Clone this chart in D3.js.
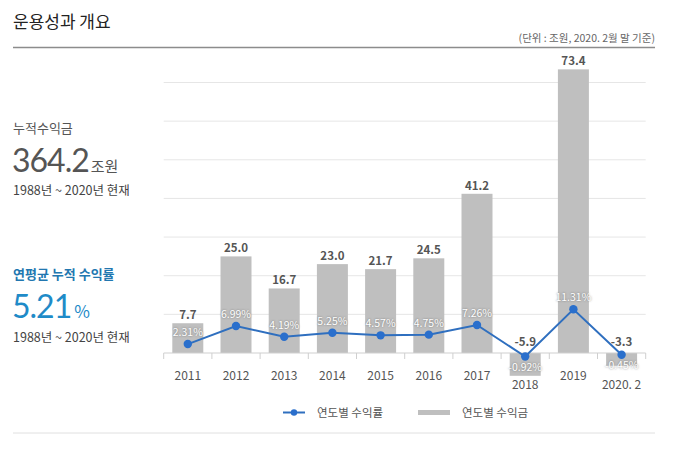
<!DOCTYPE html>
<html><head><meta charset="utf-8">
<script src="https://cdn.jsdelivr.net/npm/d3@7"></script>
<style>
body{margin:0;background:#fff;}
svg{display:block;font-family:"Noto Sans CJK KR","Noto Sans",sans-serif;}
.pct{fill:#fff;font-size:10.5px;text-shadow:0 0 2px rgba(90,90,90,0.8);}
.big{font-family:Lato,"Noto Sans",sans-serif;}
</style></head>
<body>
<svg id="c" width="680" height="449"></svg>
<script>
const categories = ["2011","2012","2013","2014","2015","2016","2017","2018","2019","2020. 2"];
const profits = [7.7, 25.0, 16.7, 23.0, 21.7, 24.5, 41.2, -5.9, 73.4, -3.3];
const returns = [2.31, 6.99, 4.19, 5.25, 4.57, 4.75, 7.26, -0.92, 11.31, -0.45];
const profitLabels = ["7.7","25.0","16.7","23.0","21.7","24.5","41.2","-5.9","73.4","-3.3"];
const returnLabels = ["2.31%","6.99%","4.19%","5.25%","4.57%","4.75%","7.26%","-0.92%","11.31%","-0.45%"];
const yTicks = [0,10,20,30,40,50,60,70];

const svg = d3.select("#c");
const gray = "#555";

// header
svg.append("text").attr("x",13).attr("y",28).attr("font-size",17).attr("fill","#222").text("운용성과 개요");
svg.append("text").attr("x",655).attr("y",42).attr("text-anchor","end").attr("font-size",10.5).attr("fill","#666").text("(단위 : 조원, 2020. 2월 말 기준)");
svg.append("line").attr("x1",13).attr("x2",655).attr("y1",47.5).attr("y2",47.5).attr("stroke","#8c8c8c").attr("stroke-width",1.5);
svg.append("line").attr("x1",13).attr("x2",655).attr("y1",433).attr("y2",433).attr("stroke","#e0e0e0").attr("stroke-width",1);

// left panel
svg.append("text").attr("x",13).attr("y",133).attr("font-size",13).attr("fill",gray).text("누적수익금");
const t1 = svg.append("text").attr("x",12).attr("y",172).attr("fill",gray);
t1.append("tspan").attr("class","big").attr("font-size",32).attr("letter-spacing",-1).text("364.2");
t1.append("tspan").attr("font-size",15).attr("dx",2).text("조원");
svg.append("text").attr("x",13).attr("y",195).attr("font-size",12.5).attr("fill","#444").text("1988년 ~ 2020년 현재");

svg.append("text").attr("x",13).attr("y",279).attr("font-size",13).attr("font-weight","bold").attr("fill","#2277b0").text("연평균 누적 수익률");
const t2 = svg.append("text").attr("x",12).attr("y",318).attr("fill","#1f8bc8");
t2.append("tspan").attr("class","big").attr("font-size",32).attr("letter-spacing",-1).text("5.21");
t2.append("tspan").attr("font-size",17).attr("dx",3).text("%");
svg.append("text").attr("x",13).attr("y",342).attr("font-size",12.5).attr("fill","#444").text("1988년 ~ 2020년 현재");

// chart
const x = d3.scaleBand().domain(categories).range([163.7,645.7]).paddingInner(0.357).paddingOuter(0.1785);
const y = d3.scaleLinear().domain([0,70]).range([353,82.5]);
const yLine = d3.scaleLinear().domain([0,70]).range([353,82.5]);

svg.append("g").selectAll("line").data(yTicks.filter(d=>d>0)).join("line")
  .attr("x1",163.7).attr("x2",645.7).attr("y1",d=>y(d)).attr("y2",d=>y(d))
  .attr("stroke","#e6e6e6").attr("stroke-width",1);

svg.append("g").selectAll("rect").data(profits).join("rect")
  .attr("x",(d,i)=>x(categories[i])).attr("width",x.bandwidth())
  .attr("y",d=>Math.min(y(d),y(0))).attr("height",d=>Math.abs(y(d)-y(0)))
  .attr("fill","#bfbfbf");

// axis
const axisG = svg.append("g").attr("transform",`translate(0,${y(0)})`);
axisG.append("line").attr("x1",163.7).attr("x2",645.7).attr("stroke","#cfcfcf");
const bounds = categories.map(c=>x(c)-x.step()*x.paddingInner()/2).concat([645.7]);
axisG.selectAll(".tk").data(bounds).join("line").attr("class","tk")
  .attr("x1",d=>d).attr("x2",d=>d).attr("y1",0).attr("y2",6).attr("stroke","#cfcfcf");
axisG.selectAll(".lb").data(categories).join("text").attr("class","lb")
  .attr("x",d=>x(d)+x.bandwidth()/2).attr("y",(d,i)=>profits[i]<0?35.5:26.5)
  .attr("text-anchor","middle").attr("font-size",12).attr("fill",gray).text(d=>d);

// bar value labels
svg.append("g").selectAll("text").data(profits).join("text")
  .attr("x",(d,i)=>x(categories[i])+x.bandwidth()/2)
  .attr("y",d=>d>=0? y(d)-4 : y(0)-7)
  .attr("text-anchor","middle").attr("font-size",11.5).attr("font-weight","bold").attr("fill",gray)
  .text((d,i)=>profitLabels[i]);

// line
const cx = (i)=>x(categories[i])+x.bandwidth()/2;
svg.append("path").datum(returns)
  .attr("d",d3.line().x((d,i)=>cx(i)).y(d=>yLine(d)))
  .attr("fill","none").attr("stroke","#2f6fbf").attr("stroke-width",2);
svg.append("g").selectAll("circle").data(returns).join("circle")
  .attr("cx",(d,i)=>cx(i)).attr("cy",d=>yLine(d)).attr("r",4.2).attr("fill","#2a6fcc");
svg.append("g").selectAll("text").data(returns).join("text").attr("class","pct")
  .attr("x",(d,i)=>cx(i)).attr("y",d=>d>=0? yLine(d)-8 : yLine(d)+14)
  .attr("text-anchor","middle").text((d,i)=>returnLabels[i]);

// legend
const lg = svg.append("g");
lg.append("line").attr("x1",283).attr("x2",305).attr("y1",412.5).attr("y2",412.5).attr("stroke","#2f6fbf").attr("stroke-width",2);
lg.append("circle").attr("cx",294).attr("cy",412.5).attr("r",3.2).attr("fill","#2a6fcc");
lg.append("text").attr("x",317).attr("y",416.5).attr("font-size",11.5).attr("fill",gray).text("연도별 수익률");
lg.append("rect").attr("x",418).attr("y",410).attr("width",32).attr("height",5).attr("fill","#bfbfbf");
lg.append("text").attr("x",462).attr("y",416.5).attr("font-size",11.5).attr("fill",gray).text("연도별 수익금");
</script>
</body></html>
